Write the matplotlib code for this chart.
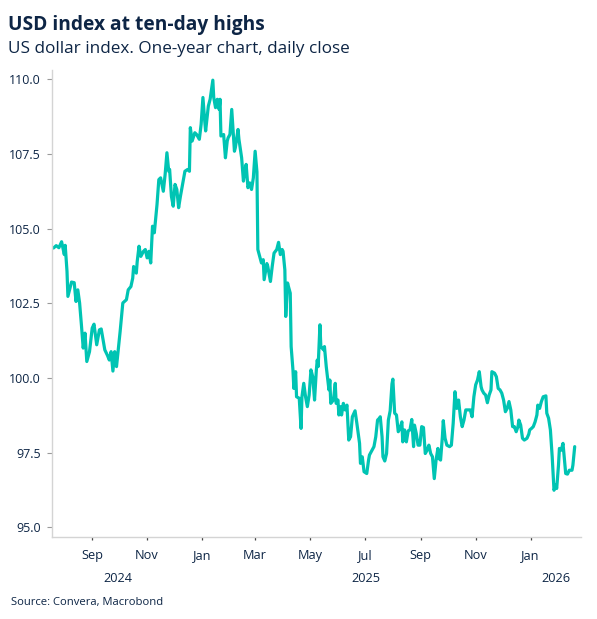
import matplotlib
matplotlib.use("Agg")
import matplotlib.pyplot as plt
import matplotlib.dates as mdates
import matplotlib.transforms as mtransforms
import pandas as pd

# ---------------- data ----------------
dates = [
    "2024-07-20", "2024-07-23", "2024-07-26", "2024-07-29", "2024-08-01", "2024-08-02", "2024-08-04", "2024-08-05", "2024-08-09", "2024-08-12", "2024-08-14", "2024-08-16", "2024-08-18", "2024-08-20", "2024-08-22", "2024-08-24", "2024-08-26", "2024-08-29",
    "2024-09-01", "2024-09-03", "2024-09-06", "2024-09-09", "2024-09-11", "2024-09-15", "2024-09-18", "2024-09-20", "2024-09-22", "2024-09-24", "2024-09-26", "2024-09-28",
    "2024-10-02", "2024-10-05", "2024-10-09", "2024-10-11", "2024-10-14", "2024-10-16", "2024-10-17", "2024-10-20", "2024-10-21", "2024-10-23", "2024-10-25", "2024-10-28", "2024-10-30",
    "2024-11-01", "2024-11-03", "2024-11-05", "2024-11-07", "2024-11-09", "2024-11-12", "2024-11-14", "2024-11-16", "2024-11-19", "2024-11-21", "2024-11-23", "2024-11-25", "2024-11-26", "2024-11-28", "2024-11-30",
    "2024-12-02", "2024-12-04", "2024-12-06", "2024-12-08", "2024-12-11", "2024-12-13", "2024-12-16", "2024-12-18", "2024-12-19", "2024-12-21", "2024-12-24", "2024-12-26", "2024-12-29", "2024-12-31",
    "2025-01-02", "2025-01-04", "2025-01-05", "2025-01-08", "2025-01-10", "2025-01-13", "2025-01-14", "2025-01-16", "2025-01-18", "2025-01-20", "2025-01-21", "2025-01-22", "2025-01-25", "2025-01-27", "2025-01-29", "2025-01-30",
    "2025-02-01", "2025-02-03", "2025-02-06", "2025-02-07", "2025-02-10", "2025-02-11", "2025-02-14", "2025-02-16", "2025-02-17", "2025-02-19", "2025-02-21", "2025-02-23", "2025-02-25", "2025-02-27",
    "2025-03-01", "2025-03-03", "2025-03-04", "2025-03-06", "2025-03-08", "2025-03-10", "2025-03-11", "2025-03-14", "2025-03-15", "2025-03-18", "2025-03-20", "2025-03-22", "2025-03-25", "2025-03-27", "2025-03-29", "2025-03-31",
    "2025-04-01", "2025-04-03", "2025-04-04", "2025-04-06", "2025-04-07", "2025-04-09", "2025-04-10", "2025-04-12", "2025-04-13", "2025-04-15", "2025-04-16", "2025-04-19", "2025-04-21", "2025-04-22", "2025-04-24", "2025-04-26", "2025-04-28", "2025-04-30",
    "2025-05-02", "2025-05-04", "2025-05-06", "2025-05-08", "2025-05-09", "2025-05-10", "2025-05-12", "2025-05-13", "2025-05-16", "2025-05-17", "2025-05-19", "2025-05-22", "2025-05-23", "2025-05-24", "2025-05-27", "2025-05-29", "2025-05-30",
    "2025-06-01", "2025-06-02", "2025-06-04", "2025-06-05", "2025-06-07", "2025-06-09", "2025-06-11", "2025-06-13", "2025-06-15", "2025-06-17", "2025-06-20", "2025-06-22", "2025-06-25", "2025-06-26", "2025-06-28", "2025-06-30",
    "2025-07-03", "2025-07-05", "2025-07-06", "2025-07-08", "2025-07-11", "2025-07-13", "2025-07-15", "2025-07-17", "2025-07-18", "2025-07-20", "2025-07-21", "2025-07-23", "2025-07-25", "2025-07-27", "2025-07-29", "2025-07-31",
    "2025-08-01", "2025-08-03", "2025-08-05", "2025-08-07", "2025-08-09", "2025-08-11", "2025-08-12", "2025-08-14", "2025-08-16", "2025-08-18", "2025-08-20", "2025-08-22", "2025-08-24", "2025-08-25", "2025-08-27", "2025-08-29", "2025-08-31",
    "2025-09-02", "2025-09-04", "2025-09-06", "2025-09-08", "2025-09-10", "2025-09-12", "2025-09-14", "2025-09-16", "2025-09-18", "2025-09-20", "2025-09-21", "2025-09-23", "2025-09-25", "2025-09-26", "2025-09-28", "2025-09-30",
    "2025-10-03", "2025-10-05", "2025-10-07", "2025-10-09", "2025-10-11", "2025-10-13", "2025-10-15", "2025-10-17", "2025-10-19", "2025-10-21", "2025-10-24", "2025-10-26", "2025-10-28", "2025-10-30",
    "2025-11-01", "2025-11-03", "2025-11-05", "2025-11-07", "2025-11-08", "2025-11-10", "2025-11-12", "2025-11-14", "2025-11-16", "2025-11-18", "2025-11-19", "2025-11-22", "2025-11-24", "2025-11-26", "2025-11-28", "2025-11-30",
    "2025-12-02", "2025-12-04", "2025-12-06", "2025-12-08", "2025-12-10", "2025-12-12", "2025-12-14", "2025-12-16", "2025-12-18", "2025-12-19", "2025-12-21", "2025-12-23", "2025-12-25", "2025-12-28", "2025-12-30", "2025-12-31",
    "2026-01-02", "2026-01-04", "2026-01-06", "2026-01-08", "2026-01-09", "2026-01-11", "2026-01-13", "2026-01-15", "2026-01-18", "2026-01-19", "2026-01-21", "2026-01-23", "2026-01-25", "2026-01-27", "2026-01-29", "2026-01-30",
    "2026-02-01", "2026-02-02", "2026-02-04", "2026-02-06", "2026-02-07", "2026-02-09", "2026-02-11", "2026-02-13", "2026-02-16", "2026-02-17", "2026-02-19",
]

usd_index = [
    104.35, 104.43, 104.36, 104.56, 104.13, 104.44, 103.57, 102.73, 103.21, 103.19, 102.56, 102.95, 102.51, 101.78, 101.00, 101.50, 100.55, 100.88,
    101.67, 101.80, 101.11, 101.61, 101.64, 100.94, 100.75, 100.60, 100.88, 100.23, 100.88, 100.38,
    101.55, 102.51, 102.62, 102.95, 103.06, 103.34, 103.73, 103.51, 103.90, 104.41, 104.07, 104.24, 104.30,
    104.02, 104.24, 103.85, 105.08, 104.86, 105.81, 106.64, 106.70, 106.25, 106.81, 107.54, 106.92, 106.98, 106.08, 105.75,
    106.48, 106.31, 105.70, 106.08, 106.59, 106.92, 106.98, 106.92, 108.38, 107.93, 108.21, 108.15, 107.99, 108.49,
    109.39, 108.60, 108.27, 109.10, 109.33, 109.97, 109.39, 109.05, 109.33, 108.99, 109.33, 108.10, 108.15, 107.37, 107.93, 108.04,
    108.15, 108.99, 107.59, 107.71, 108.32, 107.99, 107.37, 106.59, 106.81, 107.15, 106.37, 106.53, 106.31, 106.70,
    107.59, 106.90, 104.30, 104.07, 103.85, 103.96, 103.29, 103.83, 103.74, 103.23, 103.74, 104.18, 104.30, 104.54, 104.13, 104.30,
    104.24, 103.62, 102.06, 103.18, 103.06, 102.84, 101.05, 100.27, 99.65, 100.21, 99.37, 99.32, 98.31, 99.37, 99.82, 99.37, 99.04, 99.43,
    100.27, 100.04, 99.26, 100.27, 100.60, 100.38, 101.78, 101.05, 100.94, 101.05, 100.38, 99.60, 99.93, 99.15, 99.26, 99.82, 99.15,
    99.26, 98.76, 99.04, 98.76, 99.15, 98.93, 99.09, 97.92, 98.03, 98.70, 98.90, 98.48, 97.81, 97.14, 97.36, 96.86,
    96.80, 97.25, 97.42, 97.53, 97.70, 98.03, 98.59, 98.65, 98.70, 98.03, 97.36, 97.22, 97.47, 98.59, 98.90, 99.80,
    99.96, 98.82, 98.76, 98.20, 98.31, 98.53, 97.86, 98.26, 97.86, 98.23, 98.26, 98.61, 97.70, 98.42, 98.14, 97.75, 97.75,
    98.37, 98.34, 97.47, 97.58, 97.75, 97.47, 97.36, 96.63, 97.25, 97.64, 97.31, 97.25, 98.03, 98.57, 97.98, 97.75,
    97.70, 97.75, 98.48, 99.54, 98.98, 99.26, 98.70, 98.37, 98.59, 98.93, 98.93, 98.93, 98.70, 99.37,
    99.77, 99.93, 100.21, 99.71, 99.60, 99.49, 99.43, 99.17, 99.43, 99.60, 100.21, 100.16, 100.04, 99.65, 99.60, 99.49,
    99.26, 98.87, 98.98, 99.21, 98.93, 98.37, 98.37, 98.20, 98.37, 98.59, 98.42, 97.98, 97.92, 97.98, 98.12, 98.26,
    98.31, 98.37, 98.53, 98.76, 99.09, 98.98, 99.21, 99.37, 99.40, 98.82, 98.65, 98.26, 97.36, 96.24, 96.41, 96.30,
    97.08, 97.64, 97.58, 97.81, 97.47, 96.80, 96.78, 96.91, 96.91, 97.08, 97.70,
]

y_ticks = [95.0, 97.5, 100.0, 102.5, 105.0, 107.5, 110.0]
x_range = ["2024-07-18", "2026-02-26"]
year_labels = ["2024", "2025", "2026"]
year_label_dates = ["2024-09-30", "2025-07-02", "2026-01-29"]

title = "USD index at ten-day highs"
subtitle = "US dollar index. One-year chart, daily close"
source = "Source: Convera, Macrobond"

assert len(dates) == len(usd_index)

# ---------------- styling ----------------
NAVY = "#0d2545"
TEAL = "#00c4b3"
FONT = ["Open Sans", "DejaVu Sans"]
plt.rcParams["font.family"] = FONT

W, H = 597, 619
fig = plt.figure(figsize=(W / 100, H / 100), dpi=100)
fig.patch.set_facecolor("white")

ax_left, ax_right, ax_top, ax_bottom = 51.7, 581.0, 70.0, 536.7
ax = fig.add_axes([ax_left / W, 1 - ax_bottom / H, (ax_right - ax_left) / W, (ax_bottom - ax_top) / H])

x = pd.to_datetime(dates)
ax.plot(x, usd_index, color=TEAL, lw=2.3, solid_joinstyle="round", solid_capstyle="round")

ax.set_xlim(pd.Timestamp(x_range[0]), pd.Timestamp(x_range[1]))
ax.set_ylim(94.685, 110.31)

# spines
for s in ["top", "right"]:
    ax.spines[s].set_visible(False)
for s in ["left", "bottom"]:
    ax.spines[s].set_color("#d4d4d4")
    ax.spines[s].set_linewidth(1.0)

# y axis
ax.set_yticks(y_ticks)
ax.set_yticklabels([f"{v:.1f}" for v in y_ticks])
ax.tick_params(axis="y", direction="out", length=3.5, width=0.8, color="#9a9a9a",
               pad=4.5, labelsize=9, labelcolor=NAVY)

# x axis: bi-monthly month labels, longer ticks at year boundaries
ax.xaxis.set_major_locator(mdates.MonthLocator(bymonth=[1, 3, 5, 7, 9, 11]))
ax.xaxis.set_major_formatter(mdates.DateFormatter("%b"))
ax.xaxis.set_minor_locator(mdates.MonthLocator(bymonth=[1]))
ax.tick_params(axis="x", which="major", direction="out", length=2.0, width=0.9, color="#444444",
               pad=7.0, labelsize=9.2, labelcolor=NAVY)
ax.tick_params(axis="x", which="minor", direction="out", length=4.5, width=0.9, color="#444444")

trans = mtransforms.blended_transform_factory(ax.transData, ax.transAxes)
for lab, d in zip(year_labels, year_label_dates):
    ax.text(pd.Timestamp(d), (ax_bottom - 581.5) / (ax_bottom - ax_top), lab, transform=trans,
            ha="center", va="baseline", fontsize=9.2, color=NAVY)

# titles and source
fig.text(8.3 / W, 1 - 30.0 / H, title, fontsize=13.8, fontweight="bold", color=NAVY, va="baseline", ha="left")
fig.text(8.3 / W, 1 - 53.3 / H, subtitle, fontsize=12.3, color=NAVY, va="baseline", ha="left")
fig.text(11.0 / W, 1 - 605.0 / H, source, fontsize=8.1, color=NAVY, va="baseline", ha="left")

fig.savefig("out.png", dpi=100, facecolor="white")
